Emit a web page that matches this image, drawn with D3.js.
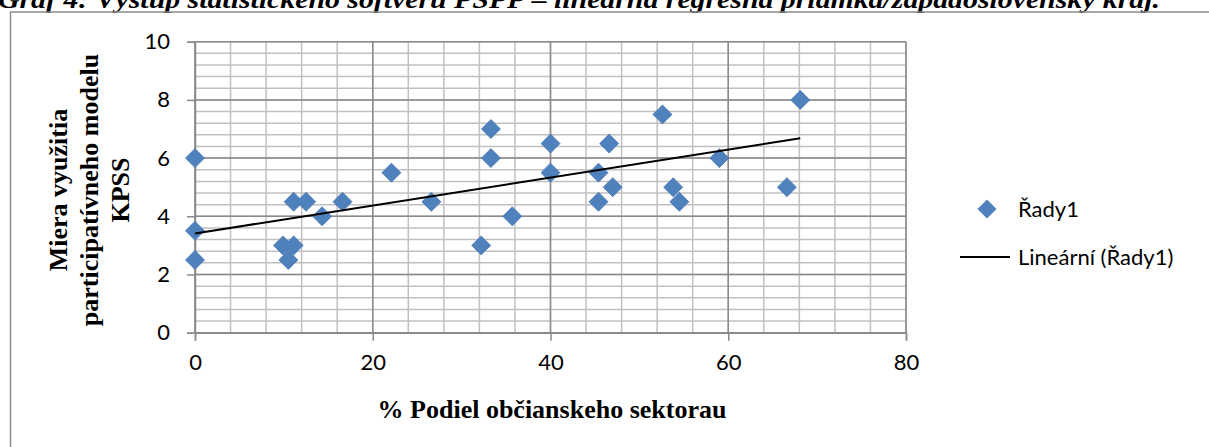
<!DOCTYPE html>
<html>
<head>
<meta charset="utf-8">
<script src="https://cdn.jsdelivr.net/npm/d3@7"></script>
<style>
  body { margin: 0; background: #fff; }
  svg { display: block; }
</style>
</head>
<body>
<div id="chart"></div>
<script>
// data: % share (x) vs. usage level (y)
const podiel = [0, 0, 0, 9.9, 10.5, 11.1, 11.1, 12.5, 14.3, 16.6, 22.1, 26.6, 32.2, 33.3, 33.3, 35.7,
  40, 40, 45.4, 45.4, 46.6, 47, 52.6, 53.8, 54.5, 59, 66.6, 68.1];
const miera = [6, 3.5, 2.5, 3, 2.5, 3, 4.5, 4.5, 4, 4.5, 5.5, 4.5, 3, 7, 6, 4,
  6.5, 5.5, 5.5, 4.5, 6.5, 5, 7.5, 5, 4.5, 6, 5, 8];
// trend line end points as shown in the picture
const trendX = [0, 68.1];
const trendY = [3.41, 6.68];
const xTicks = [0, 20, 40, 60, 80];
const yTicks = [0, 2, 4, 6, 8, 10];
const seriesName = "Řady1";
const trendName = "Lineární (Řady1)";

var w = 1209;
var h = 447;

var xScale = d3.scaleLinear().domain([0, 80]).range([195, 906]);
var yScale = d3.scaleLinear().domain([0, 10]).range([332.7, 41.7]);

var svg = d3.select("#chart")
  .append("svg")
  .attr("width", w)
  .attr("height", h)
  .style("background", "#fff");

// title (cut off at top of the image, like the scan)
svg.append("text")
  .attr("x", -2)
  .attr("y", 8)
  .attr("textLength", 1162)
  .attr("lengthAdjust", "spacingAndGlyphs")
  .style("font-family", "'Liberation Serif', serif")
  .style("font-weight", "bold")
  .style("font-style", "italic")
  .style("font-size", "26px")
  .text("Graf 4:  Výstup štatistického softvéru PSPP – lineárna regresná priamka/západoslovenský kraj.");

// outer chart border
svg.append("rect")
  .attr("x", 10.5)
  .attr("y", 12)
  .attr("width", w + 10)
  .attr("height", h + 10)
  .attr("fill", "none")
  .attr("stroke", "#8c8c8c")
  .attr("stroke-width", 1.5);

// minor grid
var grid = svg.append("g");
grid.selectAll(".minx")
  .data(d3.range(0, 81, 4))
  .enter().append("line")
  .attr("x1", d => xScale(d)).attr("x2", d => xScale(d))
  .attr("y1", yScale(0)).attr("y2", yScale(10))
  .attr("stroke", "#c0c0c0").attr("stroke-width", 1.5);
grid.selectAll(".miny")
  .data(d3.range(0, 51, 2).map(d => d / 5))
  .enter().append("line")
  .attr("y1", d => yScale(d)).attr("y2", d => yScale(d))
  .attr("x1", xScale(0)).attr("x2", xScale(80))
  .attr("stroke", "#c0c0c0").attr("stroke-width", 1.5);

// major grid
grid.selectAll(".majx")
  .data(xTicks)
  .enter().append("line")
  .attr("x1", d => xScale(d)).attr("x2", d => xScale(d))
  .attr("y1", yScale(0)).attr("y2", yScale(10))
  .attr("stroke", "#8a8a8a").attr("stroke-width", 1.5);
grid.selectAll(".majy")
  .data(yTicks)
  .enter().append("line")
  .attr("y1", d => yScale(d)).attr("y2", d => yScale(d))
  .attr("x1", xScale(0)).attr("x2", xScale(80))
  .attr("stroke", "#8a8a8a").attr("stroke-width", 1.5);

// axes
var xAxis = d3.axisBottom(xScale).tickValues(xTicks).tickSize(8).tickPadding(14).tickFormat(d3.format("d"));
var yAxis = d3.axisLeft(yScale).tickValues(yTicks).tickSize(8).tickPadding(17).tickFormat(d3.format("d"));

function styleAxis(g) {
  g.select(".domain").attr("stroke", "#8a8a8a").attr("stroke-width", 1.5);
  g.selectAll(".tick line").attr("stroke", "#8a8a8a").attr("stroke-width", 1.5);
  g.selectAll(".tick text")
    .style("font-family", "Lato, sans-serif")
    .style("font-size", "22px")
    .attr("fill", "#000");
}

svg.append("g")
  .attr("transform", "translate(0," + yScale(0) + ")")
  .call(xAxis)
  .call(styleAxis);

svg.append("g")
  .attr("transform", "translate(" + xScale(0) + ",0)")
  .call(yAxis)
  .call(styleAxis);

// axis titles
svg.append("text")
  .attr("x", 552)
  .attr("y", 418)
  .attr("text-anchor", "middle")
  .style("font-family", "'Liberation Serif', serif")
  .style("font-weight", "bold")
  .style("font-size", "26px")
  .text("% Podiel občianskeho sektorau");

var yTitle = svg.append("text")
  .attr("transform", "translate(0,190) rotate(-90)")
  .attr("text-anchor", "middle")
  .style("font-family", "'Liberation Serif', serif")
  .style("font-weight", "bold")
  .style("font-size", "26px");
["Miera využitia", "participatívneho modelu", "KPSS"].forEach(function (t, i) {
  yTitle.append("tspan").attr("x", 0).attr("y", 67 + i * 31).text(t);
});

// points
var diamond = d3.symbol().type(d3.symbolSquare).size(180);
svg.append("g")
  .selectAll("path")
  .data(podiel.map((x, i) => ({ x: x, y: miera[i] })))
  .enter().append("path")
  .attr("d", diamond)
  .attr("transform", d => "translate(" + xScale(d.x) + "," + yScale(d.y) + ") rotate(45)")
  .attr("fill", "#4f81bd")
  .attr("stroke", "#4a7ab5")
  .attr("stroke-width", 0.8);

// trend line
svg.append("line")
  .attr("x1", xScale(trendX[0])).attr("y1", yScale(trendY[0]))
  .attr("x2", xScale(trendX[1])).attr("y2", yScale(trendY[1]))
  .attr("stroke", "#000").attr("stroke-width", 2);

// legend
var legend = svg.append("g");
legend.append("path")
  .attr("d", diamond)
  .attr("transform", "translate(987,209) rotate(45)")
  .attr("fill", "#4f81bd");
legend.append("text")
  .attr("x", 1018).attr("y", 217)
  .style("font-family", "Lato, sans-serif").style("font-size", "22px")
  .text(seriesName);
legend.append("line")
  .attr("x1", 960).attr("x2", 1010).attr("y1", 257).attr("y2", 257)
  .attr("stroke", "#000").attr("stroke-width", 2);
legend.append("text")
  .attr("x", 1018).attr("y", 265)
  .style("font-family", "Lato, sans-serif").style("font-size", "22px")
  .text(trendName);
</script>
</body>
</html>
